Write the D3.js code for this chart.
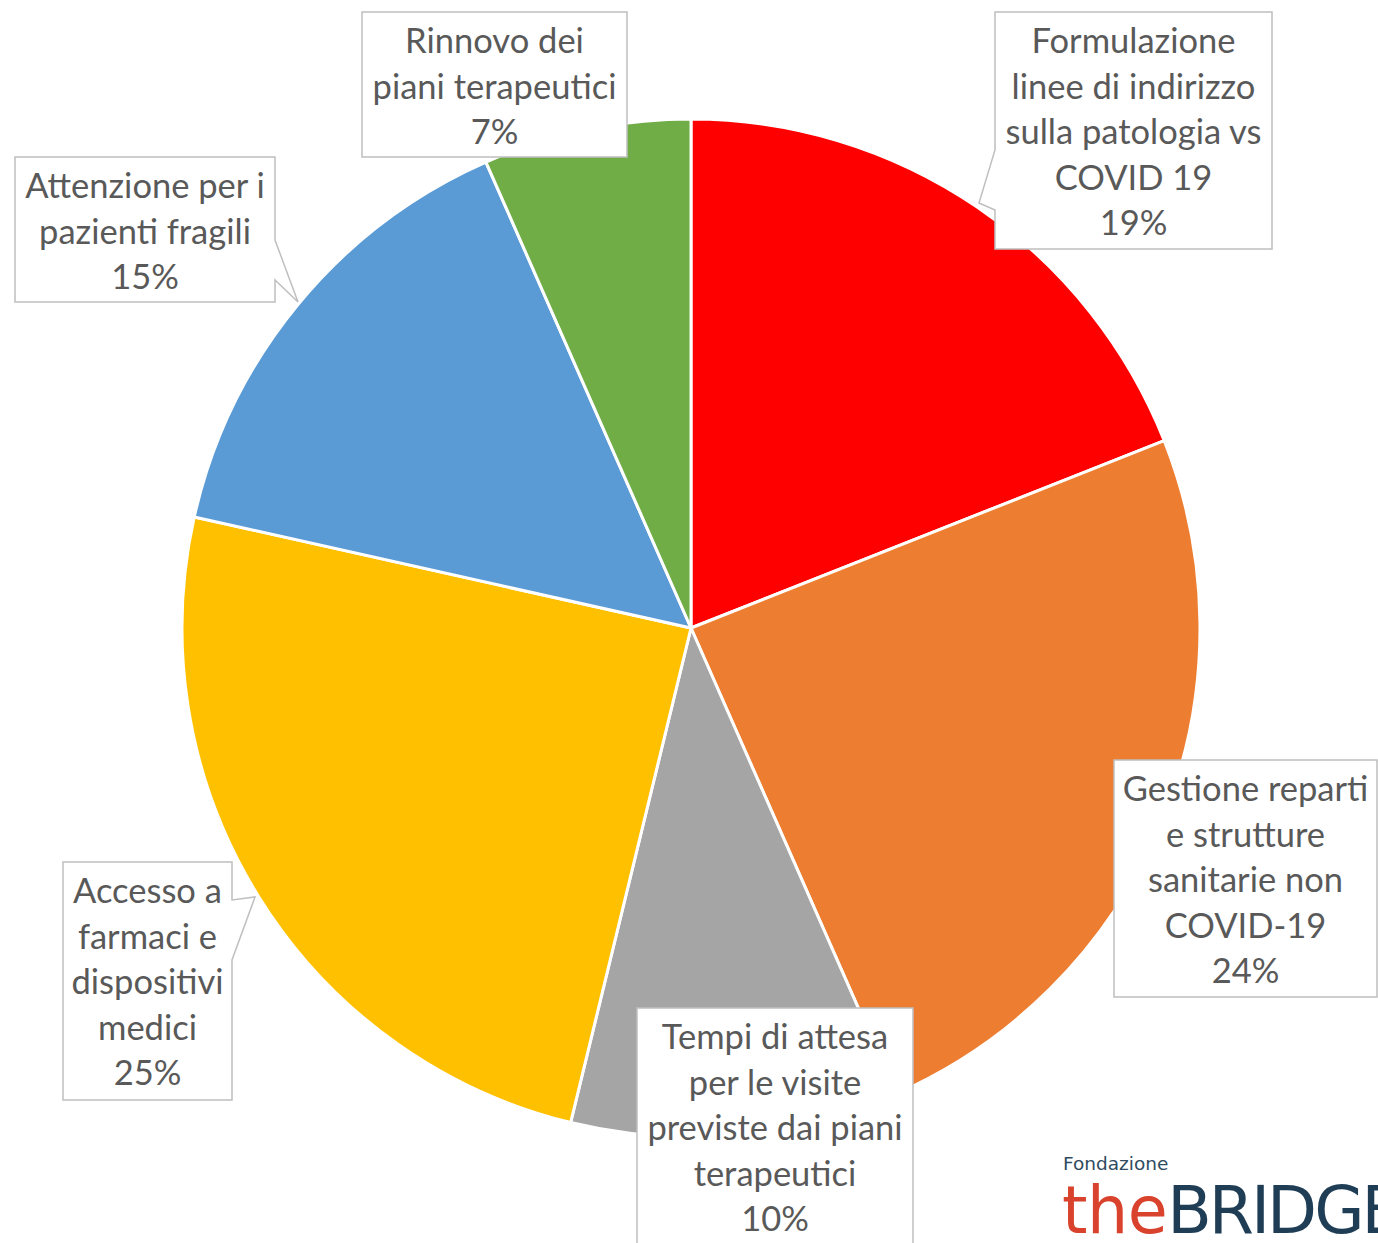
<!DOCTYPE html>
<html>
<head>
<meta charset="utf-8">
<script src="https://cdn.jsdelivr.net/npm/d3@7"></script>
<style>
  body { margin: 0; background: #fff; }
  svg { display: block; }
  .lbl { font-family: Lato, "Open Sans", sans-serif; }
  .logo { font-family: "DejaVu Sans", sans-serif; }
</style>
</head>
<body>
<svg id="chart" width="1378" height="1243"></svg>
<script>
// data
const categories = [
  'Formulazione linee di indirizzo sulla patologia vs COVID 19',
  'Gestione reparti e strutture sanitarie non COVID-19',
  'Tempi di attesa per le visite previste dai piani terapeutici',
  'Accesso a farmaci e dispositivi medici',
  'Attenzione per i pazienti fragili',
  'Rinnovo dei piani terapeutici'
]
const shares = [19.0, 24.4, 10.4, 24.7, 14.9, 6.6]
const labelLines = [
  ['Formulazione', 'linee di indirizzo', 'sulla patologia vs', 'COVID 19'],
  ['Gestione reparti', 'e strutture', 'sanitarie non', 'COVID-19'],
  ['Tempi di attesa', 'per le visite', 'previste dai piani', 'terapeutici'],
  ['Accesso a', 'farmaci e', 'dispositivi', 'medici'],
  ['Attenzione per i', 'pazienti fragili'],
  ['Rinnovo dei', 'piani terapeutici']
]
const colors = ['#ff0000', '#ed7d31', '#a5a5a5', '#ffc000', '#5b9bd5', '#70ad47']

// label boxes: x, y, w, h and an optional callout pointer
const boxes = [
  { x: 995, y: 12, w: 277, h: 237, side: 'left', p: [150, 979, 203, 210] },
  { x: 1114, y: 760, w: 263, h: 237 },
  { x: 637, y: 1008, w: 276, h: 250 },
  { x: 63, y: 862, w: 169, h: 238, side: 'right', p: [900, 255, 897, 960] },
  { x: 15, y: 157, w: 260, h: 145, side: 'right', p: [240, 298, 302, 280] },
  { x: 362, y: 12, w: 265, h: 145 }
]

const svg = d3.select('#chart')
const cx = 691, cy = 628, radius = 509
const lineH = 45.6
const fmt = d3.format('.0%')

const total = d3.sum(shares)
const pie = d3.pie().sort(null).value(d => d)
const arc = d3.arc().innerRadius(0).outerRadius(radius)

const slices = pie(shares)

svg.append('g')
  .attr('transform', `translate(${cx},${cy})`)
  .selectAll('path')
  .data(slices)
  .enter()
  .append('path')
  .attr('d', arc)
  .attr('fill', (d, i) => colors[i])
  .attr('stroke', '#fff')
  .attr('stroke-width', 3)
  .attr('stroke-linejoin', 'round')

// callout shape for each label
const boxPath = b => {
  const x0 = b.x, y0 = b.y, x1 = b.x + b.w, y1 = b.y + b.h
  if (b.side == 'left') {
    return `M${x0},${y0}H${x1}V${y1}H${x0}V${b.p[3]}L${b.p[1]},${b.p[2]}L${x0},${b.p[0]}Z`
  } else if (b.side == 'right') {
    return `M${x0},${y0}H${x1}V${b.p[0]}L${b.p[1]},${b.p[2]}L${x1},${b.p[3]}V${y1}H${x0}Z`
  }
  return `M${x0},${y0}H${x1}V${y1}H${x0}Z`
}

const labels = svg.append('g')
  .selectAll('g')
  .data(slices)
  .enter()
  .append('g')

labels.append('path')
  .attr('d', (d, i) => boxPath(boxes[i]))
  .attr('fill', '#fff')
  .attr('stroke', '#bfbfbf')
  .attr('stroke-width', 1.5)

labels.each(function (d, i) {
  const b = boxes[i]
  const lines = labelLines[i].concat([fmt(d.data / total)])
  const tx = b.x + b.w / 2
  const firstY = b.y + 41
  const t = d3.select(this).append('text')
    .attr('class', 'lbl')
    .attr('text-anchor', 'middle')
    .attr('fill', '#595959')
    .attr('font-size', 34.5)
  lines.forEach((ln, k) => {
    t.append('tspan')
      .attr('x', tx)
      .attr('y', firstY + k * lineH)
      .text(ln)
  })
})

// logo
const logo = svg.append('g').attr('class', 'logo')
logo.append('text')
  .attr('x', 1063)
  .attr('y', 1170)
  .attr('font-size', 18.5)
  .attr('fill', '#2f4b5f')
  .text('Fondazione')
const brand = logo.append('text')
  .attr('x', 1062)
  .attr('y', 1233)
  .attr('font-size', 65)
brand.append('tspan').attr('fill', '#d9422c').attr('letter-spacing', -0.5).text('the')
brand.append('tspan').attr('fill', '#1f3e56').attr('letter-spacing', -3).text('BRIDGE')
</script>
</body>
</html>
